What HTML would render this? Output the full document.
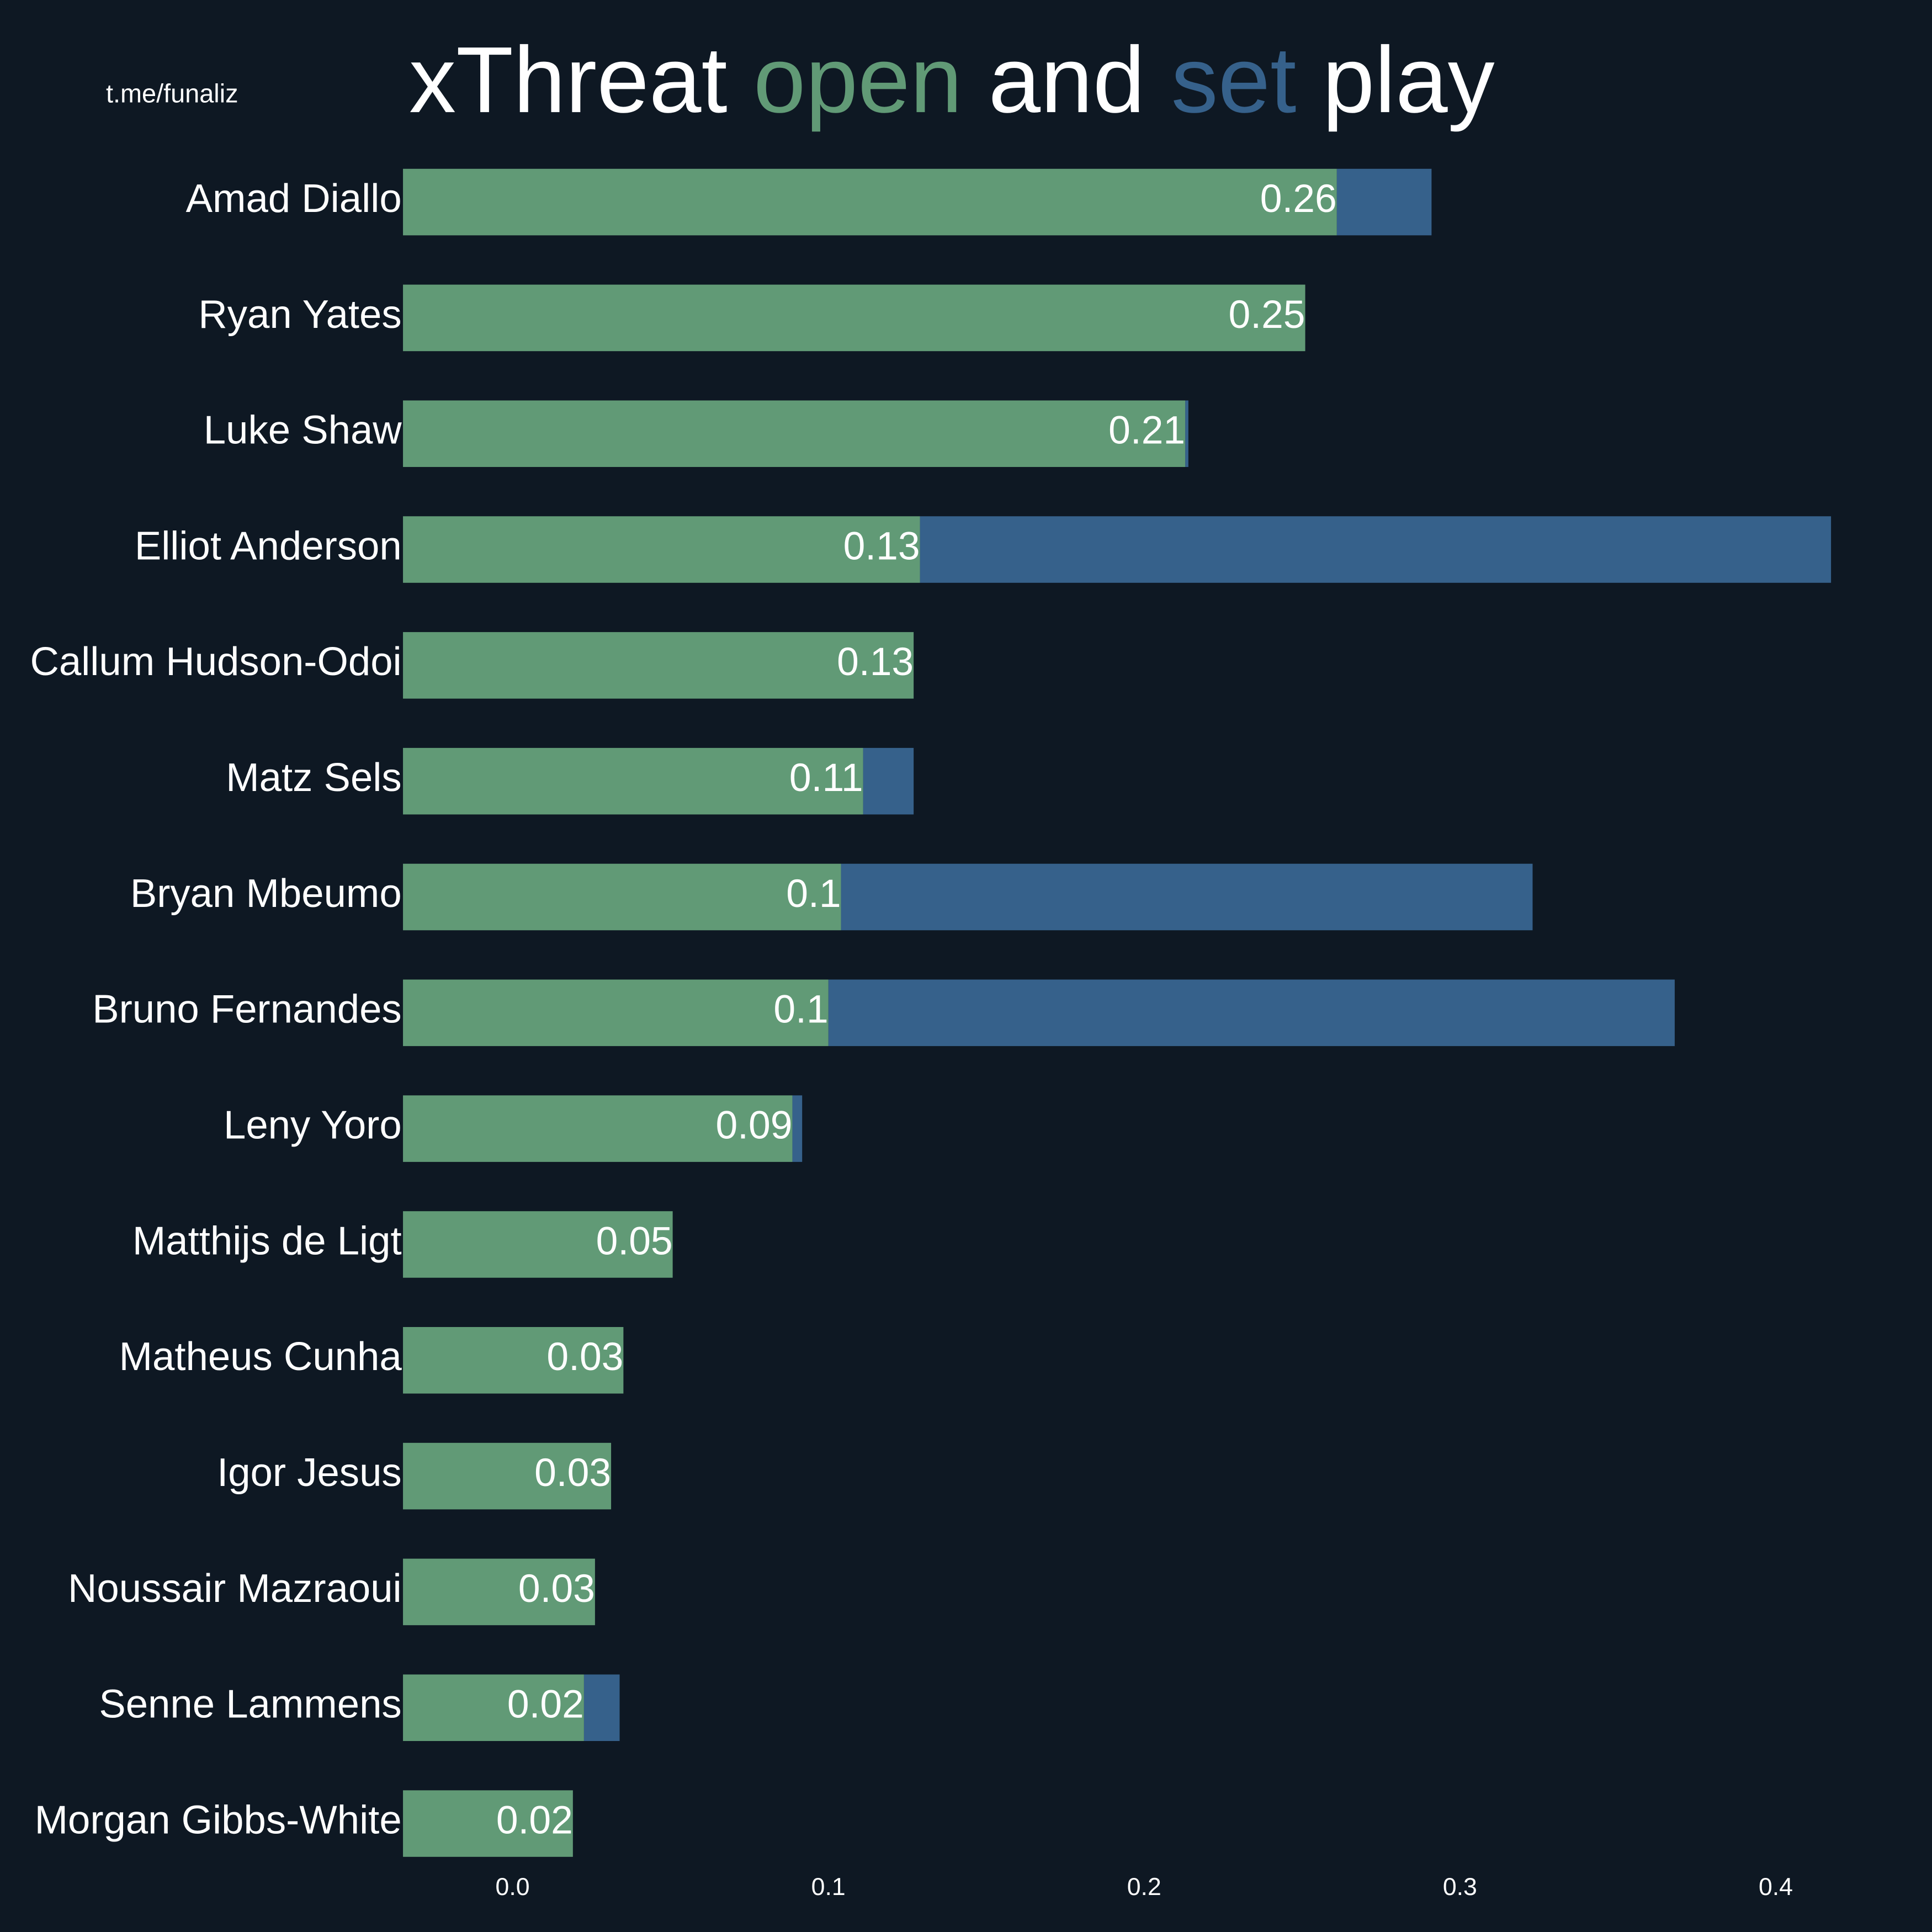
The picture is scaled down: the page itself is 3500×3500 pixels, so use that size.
<!DOCTYPE html>
<html><head><meta charset="utf-8"><style>
html,body{margin:0;padding:0;background:#0e1823;}
svg{display:block;}
text{font-family:"Liberation Sans",Arial,sans-serif;fill:#fff;}
</style></head><body>
<svg id="chart" width="3500" height="3500" viewBox="0 0 1568 1568" xmlns="http://www.w3.org/2000/svg">
<rect x="0" y="0" width="1568" height="1568" fill="#0e1823"/>
<text x="86" y="83" font-size="21">t.me/funaliz</text>
<text x="332" y="91" font-size="76.2">xThreat <tspan fill="#619a76">open</tspan> and <tspan fill="#36618b">set</tspan> play</text>
<g id="bars"></g>
<g id="ticks"></g>
</svg>
<script>
const players = ["Amad Diallo","Ryan Yates","Luke Shaw","Elliot Anderson","Callum Hudson-Odoi","Matz Sels","Bryan Mbeumo","Bruno Fernandes","Leny Yoro","Matthijs de Ligt","Matheus Cunha","Igor Jesus","Noussair Mazraoui","Senne Lammens","Morgan Gibbs-White"];
const openPlay = [0.261,0.251,0.213,0.129,0.127,0.111,0.104,0.100,0.0886,0.0507,0.0351,0.0312,0.0261,0.0226,0.0191];
const setPlay = [0.030,0,0.001,0.2885,0,0.016,0.219,0.268,0.0031,0,0,0,0,0.0113,0];
const openLabels = ["0.26","0.25","0.21","0.13","0.13","0.11","0.1","0.1","0.09","0.05","0.03","0.03","0.03","0.02","0.02"];
const tickValues = [0,0.1,0.2,0.3,0.4];
const tickLabels = ["0.0","0.1","0.2","0.3","0.4"];

const NS="http://www.w3.org/2000/svg";
const xMin=-0.0347, x0=416, pxPer=2563;
function xs(v){return x0+v*pxPer;}
function yc(i){return 164+i*94;}
const barH=54;
const gb=document.getElementById('bars');
function mk(tag,attrs){const e=document.createElementNS(NS,tag);for(const k in attrs)e.setAttribute(k,attrs[k]);return e;}
players.forEach((p,i)=>{
  const y=yc(i)-barH/2;
  const left=xs(xMin);
  const gEnd=xs(openPlay[i]);
  const tEnd=xs(openPlay[i]+setPlay[i]);
  if(setPlay[i]>0){
    const b=mk('rect',{x:gEnd,y:y,width:Math.max(0,tEnd-gEnd),height:barH,fill:'#36618b'});
    
    
    gb.appendChild(b);
  }
  const g=mk('rect',{x:left,y:y,width:gEnd-left,height:barH,fill:'#619a76'});
  
  
  gb.appendChild(g);
  const v=mk('text',{x:gEnd,y:yc(i)+8,'font-size':32,'text-anchor':'end'});
  v.textContent=openLabels[i];
  
  
  gb.appendChild(v);
  const l=mk('text',{x:326,y:yc(i)+8,'font-size':32.5,'text-anchor':'end'});
  l.textContent=p;
  
  
  gb.appendChild(l);
});
const gt=document.getElementById('ticks');
tickValues.forEach((t,i)=>{
  const e=mk('text',{x:xs(t),y:1538,'font-size':20,'text-anchor':'middle'});
  e.textContent=tickLabels[i];
  
  
  gt.appendChild(e);
});
</script>
</body></html>
